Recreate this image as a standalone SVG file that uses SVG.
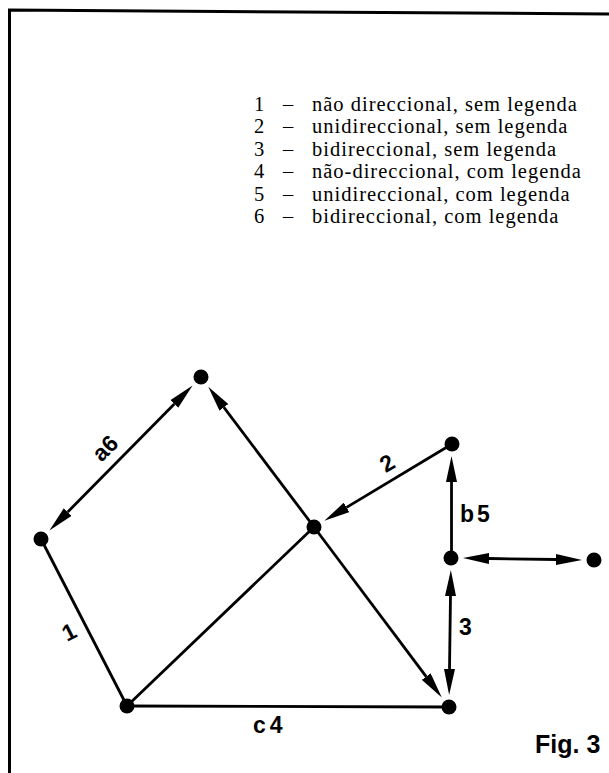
<svg xmlns="http://www.w3.org/2000/svg" width="609" height="773" viewBox="0 0 609 773">
<style>
.frame{fill:none;stroke:#000;stroke-width:3}
.edge{stroke:#000;stroke-width:2.8;fill:none}
.dot{fill:#000}
.leg{font-family:"Liberation Serif","Times New Roman",serif;font-size:20.5px;fill:#000;letter-spacing:1px}
.lab{font-family:"Liberation Sans",Arial,sans-serif;font-size:23px;font-weight:bold;fill:#000}
.fig{font-family:"Liberation Sans",Arial,sans-serif;font-size:25px;font-weight:bold;fill:#000}
</style>
<defs>
<marker id="ah" markerUnits="userSpaceOnUse" markerWidth="26" markerHeight="11" refX="0" refY="5.5" orient="auto-start-reverse" viewBox="0 0 26 11">
<path d="M0,0 L26,5.5 L0,11 z" fill="#000"/>
</marker>
</defs>
<path class="frame" d="M609,14 L9.5,10 L9.5,773"/>
<g id="legend" class="leg">
<text x="254" y="111">1</text><text x="283" y="111">–</text><text x="312" y="111">não direccional, sem legenda</text>
<text x="254" y="133.4">2</text><text x="283" y="133.4">–</text><text x="312" y="133.4">unidireccional, sem legenda</text>
<text x="254" y="155.8">3</text><text x="283" y="155.8">–</text><text x="312" y="155.8">bidireccional, sem legenda</text>
<text x="254" y="178.2">4</text><text x="283" y="178.2">–</text><text x="312" y="178.2">não-direccional, com legenda</text>
<text x="254" y="200.6">5</text><text x="283" y="200.6">–</text><text x="312" y="200.6">unidireccional, com legenda</text>
<text x="254" y="223">6</text><text x="283" y="223">–</text><text x="312" y="223">bidireccional, com legenda</text>
</g>
<g id="connectors">
<line class="edge" x1="174.3" y1="404" x2="67.7" y2="512" marker-start="url(#ah)" marker-end="url(#ah)"/>
<line class="edge" x1="314" y1="527" x2="223.9" y2="407.4" marker-end="url(#ah)"/>
<line class="edge" x1="41" y1="539" x2="127" y2="706"/>
<line class="edge" x1="127" y1="706" x2="314" y2="527"/>
<line class="edge" x1="127" y1="706" x2="449" y2="707"/>
<line class="edge" x1="314" y1="527" x2="426.2" y2="676.6" marker-end="url(#ah)"/>
<line class="edge" x1="452" y1="444" x2="346.6" y2="507.4" marker-end="url(#ah)"/>
<line class="edge" x1="451.5" y1="558" x2="451.5" y2="482" marker-end="url(#ah)"/>
<line class="edge" x1="489" y1="558.5" x2="556" y2="559.5" marker-start="url(#ah)" marker-end="url(#ah)"/>
<line class="edge" x1="450.5" y1="596" x2="449.5" y2="669" marker-start="url(#ah)" marker-end="url(#ah)"/>
</g>
<g id="labels">
<text class="lab" x="105" y="448" text-anchor="middle" dominant-baseline="central" transform="rotate(-45 105 448)">a6</text>
<text class="lab" x="387" y="463" text-anchor="middle" dominant-baseline="central" transform="rotate(-31 387 463)">2</text>
<text class="lab" x="69" y="632" text-anchor="middle" dominant-baseline="central" transform="rotate(-27 69 632)">1</text>
<text class="lab" x="460" y="522" letter-spacing="3">b5</text>
<text class="lab" x="459" y="635">3</text>
<text class="lab" x="253" y="733" letter-spacing="4">c4</text>
<text class="fig" x="535" y="753">Fig. 3</text>
</g>
<g id="nodeA"><circle class="dot" cx="201" cy="377" r="7.5"/></g>
<g id="nodeB"><circle class="dot" cx="41" cy="539" r="7.5"/></g>
<g id="nodeC"><circle class="dot" cx="314" cy="527" r="7.5"/></g>
<g id="nodeD"><circle class="dot" cx="452" cy="444" r="7.5"/></g>
<g id="nodeE"><circle class="dot" cx="451" cy="558" r="7.5"/></g>
<g id="nodeF"><circle class="dot" cx="594" cy="560" r="7.5"/></g>
<g id="nodeG"><circle class="dot" cx="127" cy="706" r="7.5"/></g>
<g id="nodeH"><circle class="dot" cx="449" cy="707" r="7.5"/></g>
</svg>
